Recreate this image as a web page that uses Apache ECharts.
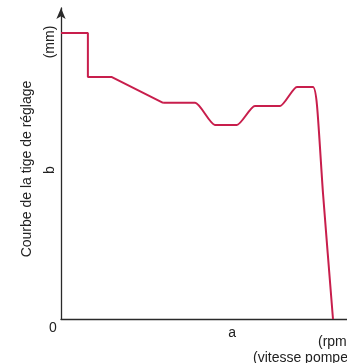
<!DOCTYPE html>
<html>
<head>
<meta charset="utf-8">
<style>
  html, body { margin: 0; padding: 0; background: #fff; }
  #chart { width: 347px; height: 363px; }
</style>
<script src="https://cdn.jsdelivr.net/npm/echarts@6/dist/echarts.min.js"></script>
</head>
<body>
<div id="chart"></div>
<script>
// Pump speed (x) and control-rod travel (y), relative units 0..100
// Straight part: full-load step, then linear fall-off
var stepX = [0, 9.4, 9.4, 17.8, 35.7];
var stepY = [92, 92, 77.8, 77.8, 69.5];

// Rounded part: dip, recovery, peak and governor cut-off
var curveX = [35.7, 46.9, 53.8, 61.5, 67.8, 76.6, 82.5, 88.1, 89.5, 91.6, 95.1];
var curveY = [69.5, 69.5, 62.4, 62.4, 68.5, 68.5, 74.6, 74.6, 68.8, 40.5, 0];

// Named positions on the axes
var xTickValues = [59.8];
var xTickLabels = ['a'];
var yTickValues = [47.9];
var yTickLabels = ['b'];

function pairs(xs, ys) {
  return xs.map(function (x, i) { return [x, ys[i]]; });
}

var FONT = '"Liberation Sans", Arial, Helvetica, sans-serif';
var RED = '#c81e4c';
var AXIS = '#2a2a2a';

var chart = echarts.init(document.getElementById('chart'));
chart.setOption({
  animation: false,
  backgroundColor: '#ffffff',
  grid: { left: 61, right: 0, top: 8, bottom: 44, containLabel: false },
  xAxis: {
    type: 'value', min: 0, max: 100,
    axisLine: { show: true, onZero: false, lineStyle: { color: AXIS, width: 1.3 } },
    axisTick: { show: false },
    splitLine: { show: false },
    axisLabel: {
      show: true,
      customValues: xTickValues,
      margin: 7,
      color: '#222', fontSize: 14, fontFamily: FONT,
      formatter: function (v) {
        var i = xTickValues.indexOf(v);
        return i >= 0 ? xTickLabels[i] : '';
      }
    }
  },
  yAxis: {
    type: 'value', min: 0, max: 100,
    axisLine: {
      show: true, onZero: false,
      symbol: ['none', 'arrow'], symbolSize: [7, 11], symbolOffset: [0, 0],
      lineStyle: { color: AXIS, width: 1.3 }
    },
    axisTick: { show: false },
    splitLine: { show: false },
    axisLabel: {
      show: true,
      customValues: yTickValues,
      rotate: 90,
      margin: 4,
      color: '#222', fontSize: 14, fontFamily: FONT,
      formatter: function (v) {
        var i = yTickValues.indexOf(v);
        return i >= 0 ? yTickLabels[i] : '';
      }
    }
  },
  graphic: [
    {
      type: 'text', x: 27, y: 169, rotation: Math.PI / 2,
      style: {
        text: 'Courbe de la tige de réglage', fill: '#222',
        font: '14px ' + FONT, align: 'center', verticalAlign: 'middle'
      }
    },
    {
      type: 'text', x: 50, y: 42, rotation: Math.PI / 2,
      style: {
        text: '(mm)', fill: '#222',
        font: '14px ' + FONT, align: 'center', verticalAlign: 'middle'
      }
    },
    {
      type: 'text', x: 53, y: 328,
      style: {
        text: '0', fill: '#222',
        font: '14px ' + FONT, align: 'center', verticalAlign: 'middle'
      }
    },
    {
      type: 'text', x: 318, y: 342,
      style: {
        text: '(rpm)', fill: '#222',
        font: '14px ' + FONT, align: 'left', verticalAlign: 'middle'
      }
    },
    {
      type: 'text', x: 253, y: 358,
      style: {
        text: '(vitesse pompe)', fill: '#222',
        font: '14px ' + FONT, align: 'left', verticalAlign: 'middle'
      }
    }
  ],
  series: [
    {
      type: 'line', data: pairs(stepX, stepY),
      showSymbol: false, smooth: false,
      lineStyle: { color: RED, width: 2 }
    },
    {
      type: 'line', data: pairs(curveX, curveY),
      showSymbol: false, smooth: 0.2,
      lineStyle: { color: RED, width: 2 }
    }
  ]
});
</script>
</body>
</html>
